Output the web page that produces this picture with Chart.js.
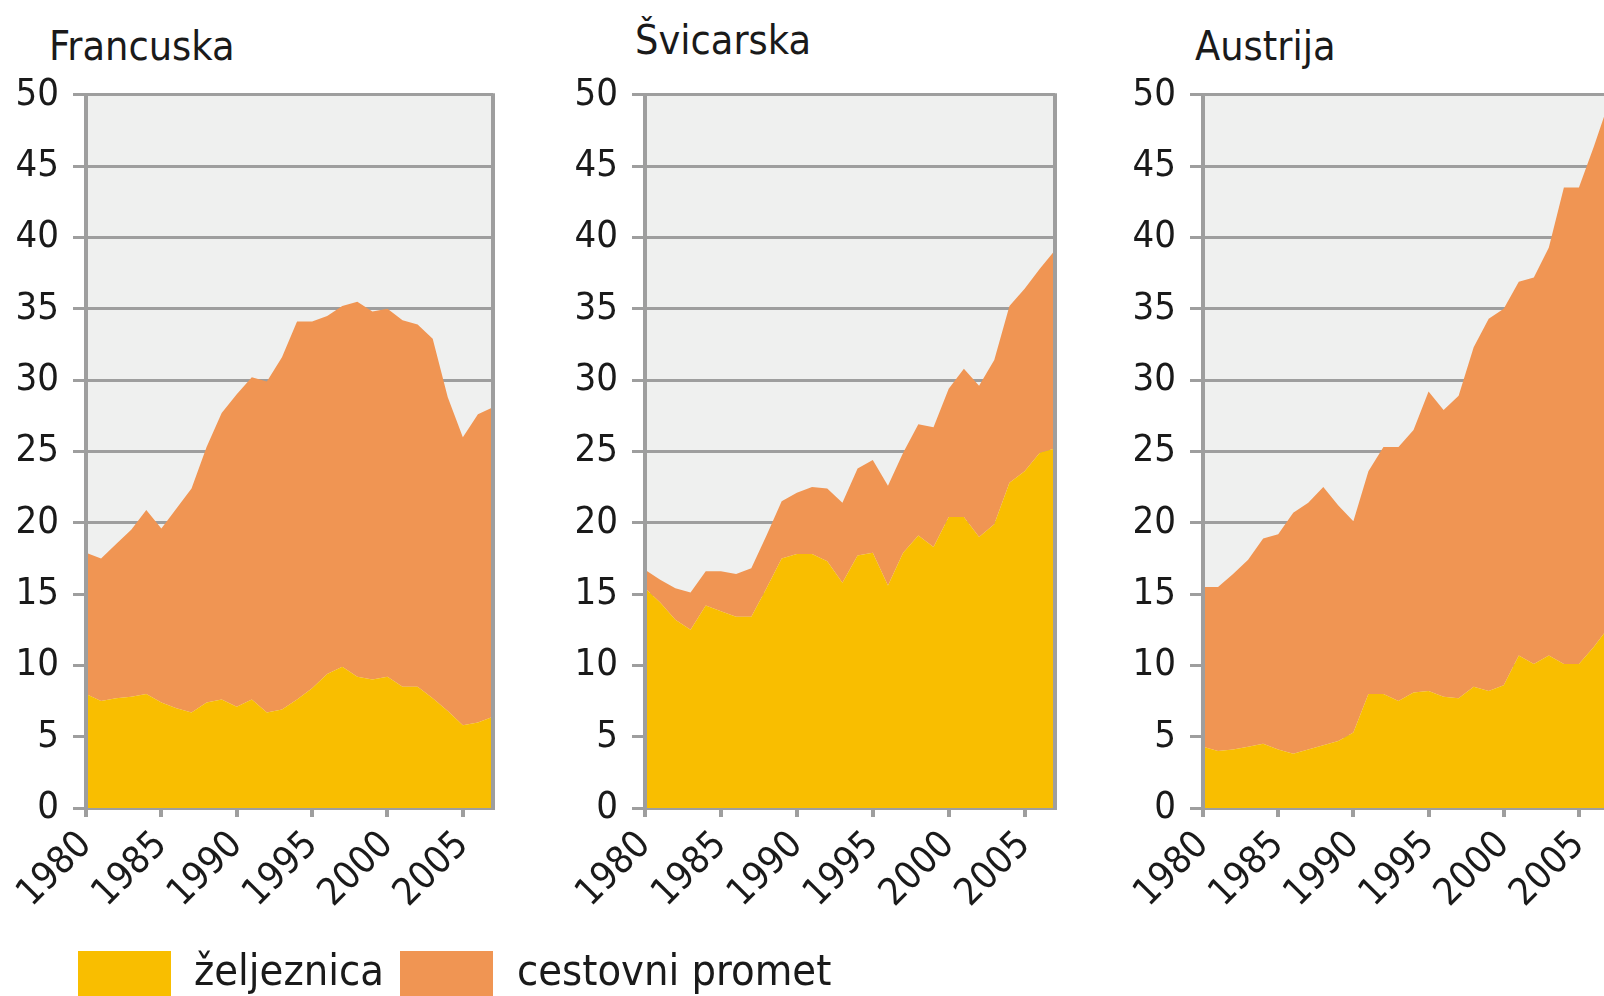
<!DOCTYPE html>
<html>
<head>
<meta charset="utf-8">
<title>Željeznica i cestovni promet</title>
<script src="https://cdn.jsdelivr.net/npm/chart.js@4.4.1/dist/chart.umd.min.js"></script>
<style>
    html, body {
        margin: 0;
        padding: 0;
        background: #ffffff;
        overflow: hidden;
        width: 1604px;
        height: 996px;
    }
    body {
        position: relative;
        font-family: 'DejaVu Sans Condensed', 'Liberation Sans', sans-serif;
        color: #1a1a1a;
    }
    canvas {
        position: absolute;
        top: 58px;
    }
    .panel-title {
        position: absolute;
        font-size: 41px;
        line-height: 1;
        white-space: nowrap;
    }
    .legend-box {
        position: absolute;
        top: 951px;
        width: 93px;
        height: 60px;
    }
    .legend-label {
        position: absolute;
        top: 949px;
        font-size: 43px;
        line-height: 1;
        white-space: nowrap;
    }
</style>
</head>
<body>
<div class="panel-title" style="left:49px; top:26px;">Francuska</div>
<div class="panel-title" style="left:635px; top:20px;">Švicarska</div>
<div class="panel-title" style="left:1195px; top:26px;">Austrija</div>

<canvas id="chartFrance" width="520" height="900" style="left:0px;"></canvas>
<canvas id="chartSwiss" width="520" height="900" style="left:559px;"></canvas>
<canvas id="chartAustria" width="520" height="900" style="left:1117px;"></canvas>

<div class="legend-box" style="left:78px; background:#f9be00;"></div>
<div class="legend-label" style="left:194px;">željeznica</div>
<div class="legend-box" style="left:400px; background:#f09553;"></div>
<div class="legend-label" style="left:517px;">cestovni promet</div>

<script>
const years = [1980, 1981, 1982, 1983, 1984, 1985, 1986, 1987, 1988, 1989,
    1990, 1991, 1992, 1993, 1994, 1995, 1996, 1997, 1998, 1999,
    2000, 2001, 2002, 2003, 2004, 2005, 2006, 2007];

// values per year (stacked: rail at the bottom, road on top)
const franceRail = [8.0, 7.5, 7.7, 7.8, 8.0, 7.4, 7.0, 6.7, 7.4, 7.6, 7.1, 7.6, 6.7, 6.9,
    7.6, 8.4, 9.4, 9.9, 9.2, 9.0, 9.2, 8.5, 8.5, 7.7, 6.8, 5.8, 6.0, 6.4];
const franceRoad = [9.9, 10.0, 10.8, 11.7, 12.9, 12.2, 14.0, 15.7, 17.9, 20.1, 21.9, 22.6, 23.2, 24.7,
    26.5, 25.7, 25.1, 25.3, 26.3, 25.8, 25.8, 25.7, 25.4, 25.2, 22.0, 20.2, 21.6, 21.7];

const swissRail = [15.4, 14.4, 13.2, 12.5, 14.2, 13.8, 13.4, 13.4, 15.4, 17.5, 17.8, 17.8, 17.3, 15.8,
    17.7, 17.9, 15.6, 17.9, 19.1, 18.3, 20.4, 20.4, 19.0, 19.9, 22.8, 23.6, 24.9, 25.2];
const swissRoad = [1.3, 1.6, 2.2, 2.6, 2.4, 2.8, 3.0, 3.4, 3.7, 4.0, 4.3, 4.7, 5.1, 5.6,
    6.1, 6.5, 7.0, 7.0, 7.8, 8.4, 9.0, 10.4, 10.6, 11.5, 12.4, 12.8, 12.9, 13.9];

const austriaRail = [4.3, 4.0, 4.1, 4.3, 4.5, 4.1, 3.8, 4.1, 4.4, 4.7, 5.3, 8.0, 8.0, 7.5,
    8.1, 8.2, 7.8, 7.7, 8.5, 8.2, 8.6, 10.7, 10.1, 10.7, 10.1, 10.1, 11.3, 12.7];
const austriaRoad = [11.2, 11.5, 12.3, 13.1, 14.4, 15.1, 16.9, 17.3, 18.1, 16.5, 14.8, 15.6, 17.3, 17.8,
    18.4, 21.0, 20.1, 21.2, 23.8, 26.1, 26.4, 26.2, 27.1, 28.6, 33.4, 33.4, 35.1, 36.8];

const seriesNames = ['željeznica', 'cestovni promet'];
const yTicks = [0, 5, 10, 15, 20, 25, 30, 35, 40, 45, 50];

const railColor = '#f9be00';
const roadColor = '#f09553';
const gridColor = '#9e9e9e';

Chart.defaults.font.family = "'DejaVu Sans Condensed', 'Liberation Sans', sans-serif";
Chart.defaults.font.size = 38;
Chart.defaults.color = '#1a1a1a';

// grey plot background and the left/right frame lines
const plotFrame = {
    id: 'plotFrame',
    beforeDraw(chart) {
        const { ctx, chartArea } = chart;
        ctx.save();
        ctx.fillStyle = '#eff0ef';
        ctx.fillRect(chartArea.left, chartArea.top, chartArea.right - chartArea.left, chartArea.bottom - chartArea.top);
        ctx.restore();
    },
    afterDatasetsDraw(chart) {
        const { ctx, chartArea } = chart;
        ctx.save();
        ctx.strokeStyle = gridColor;
        ctx.lineWidth = 4;
        ctx.beginPath();
        ctx.moveTo(chartArea.left, chartArea.top - 1.5);
        ctx.lineTo(chartArea.left, chartArea.bottom + 2);
        ctx.moveTo(chartArea.right, chartArea.top - 1.5);
        ctx.lineTo(chartArea.right, chartArea.bottom + 2);
        ctx.stroke();
        ctx.restore();
    }
};

function makeChart(canvasId, rail, road, rightPad) {
    const ctx = document.getElementById(canvasId).getContext('2d');
    return new Chart(ctx, {
        type: 'line',
        data: {
            labels: years,
            datasets: [
                {
                    label: seriesNames[0],
                    data: rail,
                    backgroundColor: railColor,
                    borderWidth: 0,
                    pointRadius: 0,
                    fill: 'origin'
                },
                {
                    label: seriesNames[1],
                    data: road,
                    backgroundColor: roadColor,
                    borderWidth: 0,
                    pointRadius: 0,
                    fill: '-1'
                }
            ]
        },
        options: {
            responsive: false,
            animation: false,
            devicePixelRatio: 1,
            layout: {
                padding: { top: 23, right: rightPad, left: 0, bottom: 0 }
            },
            plugins: {
                legend: { display: false },
                tooltip: { enabled: false }
            },
            scales: {
                x: {
                    type: 'linear',
                    min: years[0],
                    max: years[years.length - 1],
                    afterFit: function(scale) { scale.height = 150; },
                    ticks: {
                        stepSize: 5,
                        includeBounds: false,
                        minRotation: 45,
                        maxRotation: 45,
                        padding: 6,
                        callback: function(value) { return String(value); }
                    },
                    grid: {
                        drawOnChartArea: false,
                        drawTicks: true,
                        tickLength: 9,
                        tickColor: gridColor,
                        lineWidth: 4
                    },
                    border: { display: true, color: gridColor, width: 4 }
                },
                y: {
                    stacked: true,
                    min: yTicks[0],
                    max: yTicks[yTicks.length - 1],
                    afterFit: function(scale) { scale.width = 86; },
                    afterBuildTicks: function(scale) {
                        scale.ticks = yTicks.map(v => ({ value: v }));
                    },
                    ticks: {
                        padding: 14,
                        callback: function(value) { return String(value); }
                    },
                    grid: {
                        color: gridColor,
                        lineWidth: 3,
                        tickLength: 13,
                        tickColor: gridColor
                    },
                    border: { display: true, color: gridColor, width: 4 }
                }
            }
        },
        plugins: [plotFrame]
    });
}

const franceChart = makeChart('chartFrance', franceRail, franceRoad, 27);
const swissChart = makeChart('chartSwiss', swissRail, swissRoad, 24);
const austriaChart = makeChart('chartAustria', austriaRail, austriaRoad, 28);
</script>
</body>
</html>
